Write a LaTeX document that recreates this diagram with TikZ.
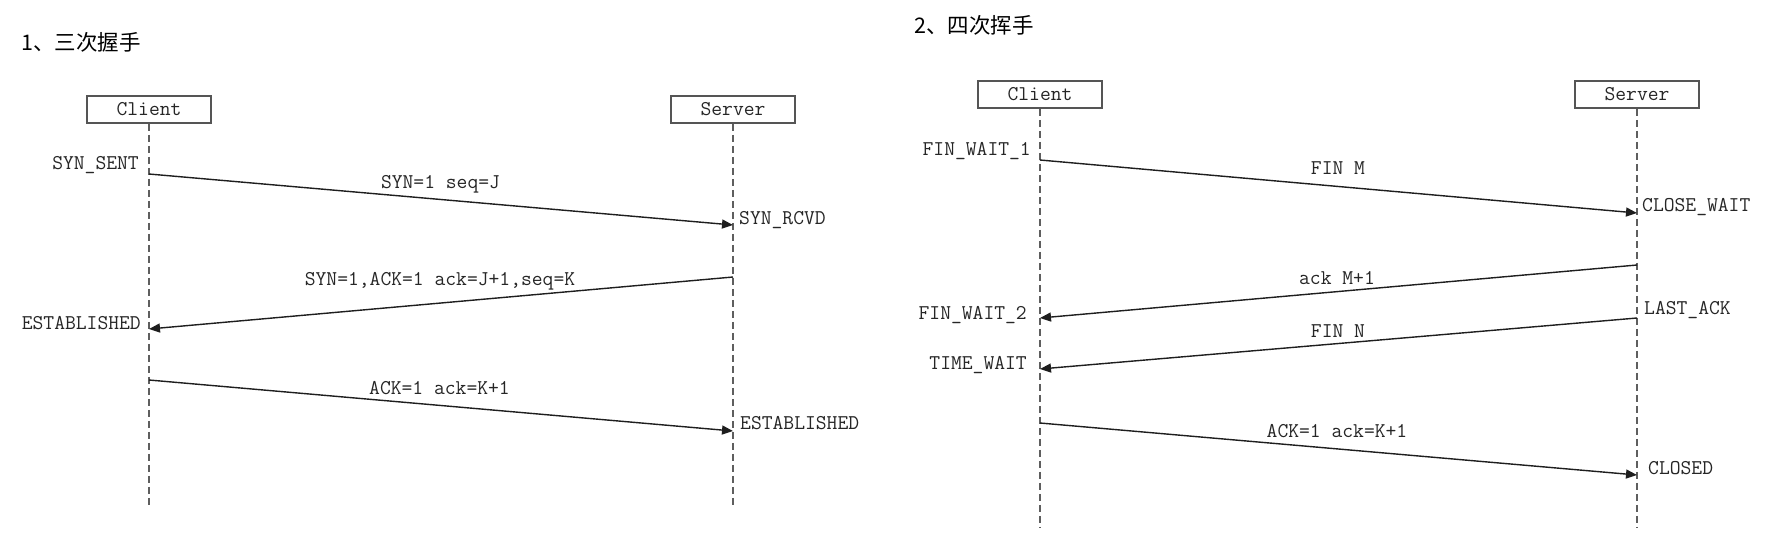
\documentclass[tikz,border=0pt]{standalone}
\usepackage{fontspec}
\newfontfamily\cjk{Noto Sans CJK SC}
\usetikzlibrary{arrows.meta}
\definecolor{txt}{HTML}{262626}
\definecolor{msgline}{HTML}{1E1E1E}
\definecolor{lifeline}{HTML}{5E5E5E}
\definecolor{boxline}{HTML}{555555}
\tikzset{
  lbl/.style={inner sep=0pt, text=txt, font=\ttfamily\fontsize{21}{23}\selectfont},
  actor/.style={draw=boxline, line width=1.8pt, minimum width=124pt, minimum height=27pt, inner sep=0pt, text=txt, font=\ttfamily\fontsize{21}{23}\selectfont},
  life/.style={draw=lifeline, line width=2.2pt, dash pattern=on 7pt off 4pt},
  msg/.style={draw=msgline, line width=1.4pt, -{Triangle[length=11pt,width=9pt]}},
  ttl/.style={inner sep=0pt, anchor=west, text=black, font=\cjk\fontsize{21.5}{24}\selectfont}
}
\begin{document}
\begin{tikzpicture}[x=1pt,y=-1pt]
\useasboundingbox[fill=white] (0,0) rectangle (1785,547);

% ---------- 1. three-way handshake ----------
\node[ttl] (t1) at (21,42) {1、三次握手};
\node[actor] (c1) at (149,109.5) {Client};
\node[actor] (s1) at (733,109.5) {Server};
\coordinate (c1end) at (149,508);
\coordinate (s1end) at (733,508);
\draw[life] (c1.south) -- (c1end);
\draw[life] (s1.south) -- (s1end);

\coordinate (m1a) at (149,174);
\coordinate (m1b) at (733,225);
\coordinate (m2a) at (733,277);
\coordinate (m2b) at (149,329);
\coordinate (m3a) at (149,380);
\coordinate (m3b) at (733,431);
\draw[msg] (m1a) -- (m1b);
\draw[msg] (m2a) -- (m2b);
\draw[msg] (m3a) -- (m3b);

\node[lbl, anchor=mid east] (synsent) at (139,167) {SYN\_SENT};
\node[lbl, anchor=mid west] (synrcvd) at (739,222) {SYN\_RCVD};
\node[lbl, anchor=mid east] (est1) at (141,327) {ESTABLISHED};
\node[lbl, anchor=mid west] (est2) at (740,427) {ESTABLISHED};
\node[lbl, anchor=mid] (l1) at (440.5,186) {SYN=1 seq=J};
\node[lbl, anchor=mid] (l2) at (440,283) {SYN=1,ACK=1 ack=J+1,seq=K};
\node[lbl, anchor=mid] (l3) at (439.5,392) {ACK=1 ack=K+1};

% ---------- 2. four-way handshake ----------
\node[ttl] (t2) at (914,25) {2、四次挥手};
\node[actor] (c2) at (1040,94.5) {Client};
\node[actor] (s2) at (1637,94.5) {Server};
\coordinate (c2end) at (1040,527);
\coordinate (s2end) at (1637,527);
\draw[life] (c2.south) -- (c2end);
\draw[life] (s2.south) -- (s2end);

\coordinate (n1a) at (1040,160);
\coordinate (n1b) at (1637,213);
\coordinate (n2a) at (1637,265);
\coordinate (n2b) at (1040,318);
\coordinate (n3a) at (1637,318);
\coordinate (n3b) at (1040,369);
\coordinate (n4a) at (1040,423);
\coordinate (n4b) at (1637,475);
\draw[msg] (n1a) -- (n1b);
\draw[msg] (n2a) -- (n2b);
\draw[msg] (n3a) -- (n3b);
\draw[msg] (n4a) -- (n4b);

\node[lbl, anchor=mid east] (fw1) at (1031,153) {FIN\_WAIT\_1};
\node[lbl, anchor=mid west] (cw) at (1642,209) {CLOSE\_WAIT};
\node[lbl, anchor=mid east] (fw2) at (1027,317) {FIN\_WAIT\_2};
\node[lbl, anchor=mid west] (la) at (1644,312) {LAST\_ACK};
\node[lbl, anchor=mid east] (tw) at (1027,367) {TIME\_WAIT};
\node[lbl, anchor=mid west] (cl) at (1648,472) {CLOSED};
\node[lbl, anchor=mid] (k1) at (1338,172) {FIN M};
\node[lbl, anchor=mid] (k2) at (1337,282) {ack M+1};
\node[lbl, anchor=mid] (k3) at (1338,335) {FIN N};
\node[lbl, anchor=mid] (k4) at (1337,435) {ACK=1 ack=K+1};
\end{tikzpicture}
\end{document}
